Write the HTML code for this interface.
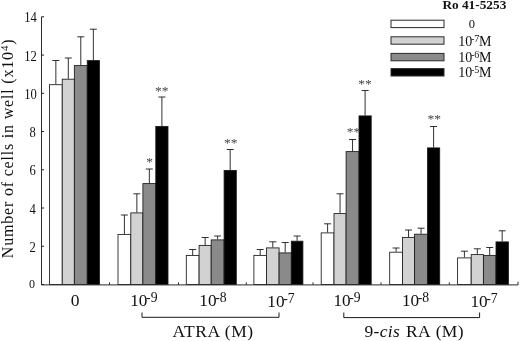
<!DOCTYPE html>
<html><head><meta charset="utf-8"><title>chart</title>
<style>
html,body{margin:0;padding:0;background:#fff;}
body{width:520px;height:341px;overflow:hidden;}
svg{display:block;will-change:transform;}
text{font-family:"Liberation Serif",serif;fill:#111;}
</style></head><body>
<svg width="520" height="341" viewBox="0 0 520 341">
<rect width="520" height="341" fill="#fff"/>

<path d="M55.85 84.30V60.50M52.35 60.50H59.35" stroke="#1a1a1a" stroke-width="0.9" fill="none"/>
<path d="M68.30 78.80V58.00M64.80 58.00H71.80" stroke="#1a1a1a" stroke-width="0.9" fill="none"/>
<path d="M80.80 65.20V36.80M77.30 36.80H84.30" stroke="#1a1a1a" stroke-width="0.9" fill="none"/>
<path d="M93.35 60.20V29.20M89.85 29.20H96.85" stroke="#1a1a1a" stroke-width="0.9" fill="none"/>
<path d="M124.40 234.00V215.00M120.90 215.00H127.90" stroke="#1a1a1a" stroke-width="0.9" fill="none"/>
<path d="M136.85 212.50V193.80M133.35 193.80H140.35" stroke="#1a1a1a" stroke-width="0.9" fill="none"/>
<path d="M149.35 183.20V169.00M145.85 169.00H152.85" stroke="#1a1a1a" stroke-width="0.9" fill="none"/>
<path d="M161.90 126.00V97.00M158.40 97.00H165.40" stroke="#1a1a1a" stroke-width="0.9" fill="none"/>
<path d="M192.70 255.00V249.50M189.20 249.50H196.20" stroke="#1a1a1a" stroke-width="0.9" fill="none"/>
<path d="M205.15 245.00V237.50M201.65 237.50H208.65" stroke="#1a1a1a" stroke-width="0.9" fill="none"/>
<path d="M217.65 239.50V236.00M214.15 236.00H221.15" stroke="#1a1a1a" stroke-width="0.9" fill="none"/>
<path d="M230.20 170.00V149.50M226.70 149.50H233.70" stroke="#1a1a1a" stroke-width="0.9" fill="none"/>
<path d="M260.20 255.00V249.50M256.70 249.50H263.70" stroke="#1a1a1a" stroke-width="0.9" fill="none"/>
<path d="M272.80 247.50V241.80M269.30 241.80H276.30" stroke="#1a1a1a" stroke-width="0.9" fill="none"/>
<path d="M285.20 252.50V242.50M281.70 242.50H288.70" stroke="#1a1a1a" stroke-width="0.9" fill="none"/>
<path d="M297.10 240.80V236.00M293.60 236.00H300.60" stroke="#1a1a1a" stroke-width="0.9" fill="none"/>
<path d="M327.60 232.50V223.80M324.10 223.80H331.10" stroke="#1a1a1a" stroke-width="0.9" fill="none"/>
<path d="M340.05 213.20V193.80M336.55 193.80H343.55" stroke="#1a1a1a" stroke-width="0.9" fill="none"/>
<path d="M352.55 151.20V139.50M349.05 139.50H356.05" stroke="#1a1a1a" stroke-width="0.9" fill="none"/>
<path d="M365.10 115.50V90.50M361.60 90.50H368.60" stroke="#1a1a1a" stroke-width="0.9" fill="none"/>
<path d="M396.10 251.80V248.00M392.60 248.00H399.60" stroke="#1a1a1a" stroke-width="0.9" fill="none"/>
<path d="M408.55 237.00V230.00M405.05 230.00H412.05" stroke="#1a1a1a" stroke-width="0.9" fill="none"/>
<path d="M421.05 233.80V228.20M417.55 228.20H424.55" stroke="#1a1a1a" stroke-width="0.9" fill="none"/>
<path d="M433.60 147.50V126.50M430.10 126.50H437.10" stroke="#1a1a1a" stroke-width="0.9" fill="none"/>
<path d="M464.40 257.50V251.20M460.90 251.20H467.90" stroke="#1a1a1a" stroke-width="0.9" fill="none"/>
<path d="M477.30 254.20V248.80M473.80 248.80H480.80" stroke="#1a1a1a" stroke-width="0.9" fill="none"/>
<path d="M489.70 255.00V247.50M486.20 247.50H493.20" stroke="#1a1a1a" stroke-width="0.9" fill="none"/>
<path d="M502.20 241.50V230.80M498.70 230.80H505.70" stroke="#1a1a1a" stroke-width="0.9" fill="none"/>
<rect x="49.45" y="84.70" width="12.80" height="199.80" fill="#ffffff" stroke="#1a1a1a" stroke-width="0.85"/>
<rect x="62.25" y="79.20" width="12.10" height="205.30" fill="#d2d2d2" stroke="#1a1a1a" stroke-width="0.85"/>
<rect x="74.35" y="65.60" width="12.90" height="218.90" fill="#8a8a8a" stroke="#1a1a1a" stroke-width="0.85"/>
<rect x="87.25" y="60.60" width="12.20" height="223.90" fill="#000000" stroke="#1a1a1a" stroke-width="0.85"/>
<rect x="118.00" y="234.40" width="12.80" height="50.10" fill="#ffffff" stroke="#1a1a1a" stroke-width="0.85"/>
<rect x="130.80" y="212.90" width="12.10" height="71.60" fill="#d2d2d2" stroke="#1a1a1a" stroke-width="0.85"/>
<rect x="142.90" y="183.60" width="12.90" height="100.90" fill="#8a8a8a" stroke="#1a1a1a" stroke-width="0.85"/>
<rect x="155.80" y="126.40" width="12.20" height="158.10" fill="#000000" stroke="#1a1a1a" stroke-width="0.85"/>
<rect x="186.30" y="255.40" width="12.80" height="29.10" fill="#ffffff" stroke="#1a1a1a" stroke-width="0.85"/>
<rect x="199.10" y="245.40" width="12.10" height="39.10" fill="#d2d2d2" stroke="#1a1a1a" stroke-width="0.85"/>
<rect x="211.20" y="239.90" width="12.90" height="44.60" fill="#8a8a8a" stroke="#1a1a1a" stroke-width="0.85"/>
<rect x="224.10" y="170.40" width="12.20" height="114.10" fill="#000000" stroke="#1a1a1a" stroke-width="0.85"/>
<rect x="253.90" y="255.40" width="12.60" height="29.10" fill="#ffffff" stroke="#1a1a1a" stroke-width="0.85"/>
<rect x="266.50" y="247.90" width="12.60" height="36.60" fill="#d2d2d2" stroke="#1a1a1a" stroke-width="0.85"/>
<rect x="279.10" y="252.90" width="12.20" height="31.60" fill="#8a8a8a" stroke="#1a1a1a" stroke-width="0.85"/>
<rect x="291.30" y="241.20" width="11.60" height="43.30" fill="#000000" stroke="#1a1a1a" stroke-width="0.85"/>
<rect x="321.20" y="232.90" width="12.80" height="51.60" fill="#ffffff" stroke="#1a1a1a" stroke-width="0.85"/>
<rect x="334.00" y="213.60" width="12.10" height="70.90" fill="#d2d2d2" stroke="#1a1a1a" stroke-width="0.85"/>
<rect x="346.10" y="151.60" width="12.90" height="132.90" fill="#8a8a8a" stroke="#1a1a1a" stroke-width="0.85"/>
<rect x="359.00" y="115.90" width="12.20" height="168.60" fill="#000000" stroke="#1a1a1a" stroke-width="0.85"/>
<rect x="389.70" y="252.20" width="12.80" height="32.30" fill="#ffffff" stroke="#1a1a1a" stroke-width="0.85"/>
<rect x="402.50" y="237.40" width="12.10" height="47.10" fill="#d2d2d2" stroke="#1a1a1a" stroke-width="0.85"/>
<rect x="414.60" y="234.20" width="12.90" height="50.30" fill="#8a8a8a" stroke="#1a1a1a" stroke-width="0.85"/>
<rect x="427.50" y="147.90" width="12.20" height="136.60" fill="#000000" stroke="#1a1a1a" stroke-width="0.85"/>
<rect x="457.60" y="257.90" width="13.60" height="26.60" fill="#ffffff" stroke="#1a1a1a" stroke-width="0.85"/>
<rect x="471.20" y="254.60" width="12.20" height="29.90" fill="#d2d2d2" stroke="#1a1a1a" stroke-width="0.85"/>
<rect x="483.40" y="255.40" width="12.60" height="29.10" fill="#8a8a8a" stroke="#1a1a1a" stroke-width="0.85"/>
<rect x="496.00" y="241.90" width="12.40" height="42.60" fill="#000000" stroke="#1a1a1a" stroke-width="0.85"/>
<path d="M41.5 16.8V284.9H518V281.8" stroke="#2a2a2a" stroke-width="1" fill="none"/>
<path d="M41.5 284.50H44" stroke="#1a1a1a" stroke-width="1" fill="none"/>
<path d="M41.5 246.26H44" stroke="#1a1a1a" stroke-width="1" fill="none"/>
<path d="M41.5 208.02H44" stroke="#1a1a1a" stroke-width="1" fill="none"/>
<path d="M41.5 169.78H44" stroke="#1a1a1a" stroke-width="1" fill="none"/>
<path d="M41.5 131.54H44" stroke="#1a1a1a" stroke-width="1" fill="none"/>
<path d="M41.5 93.30H44" stroke="#1a1a1a" stroke-width="1" fill="none"/>
<path d="M41.5 55.06H44" stroke="#1a1a1a" stroke-width="1" fill="none"/>
<path d="M41.5 16.82H44" stroke="#1a1a1a" stroke-width="1" fill="none"/>
<path d="M109.5 284.9V282.3" stroke="#333" stroke-width="1" fill="none"/>
<path d="M178.5 284.9V282.3" stroke="#333" stroke-width="1" fill="none"/>
<path d="M246.3 284.9V282.3" stroke="#333" stroke-width="1" fill="none"/>
<path d="M313.0 284.9V282.3" stroke="#333" stroke-width="1" fill="none"/>
<path d="M381.0 284.9V282.3" stroke="#333" stroke-width="1" fill="none"/>
<path d="M449.3 284.9V282.3" stroke="#333" stroke-width="1" fill="none"/>
<text transform="translate(35.8,251.86) scale(0.9,1)" font-size="14" text-anchor="end">2</text>
<text transform="translate(35.8,213.62) scale(0.9,1)" font-size="14" text-anchor="end">4</text>
<text transform="translate(35.8,175.38) scale(0.9,1)" font-size="14" text-anchor="end">6</text>
<text transform="translate(35.8,137.14) scale(0.9,1)" font-size="14" text-anchor="end">8</text>
<text transform="translate(36.9,98.90) scale(0.9,1)" font-size="14" text-anchor="end">10</text>
<text transform="translate(36.9,60.66) scale(0.9,1)" font-size="14" text-anchor="end">12</text>
<text transform="translate(36.9,22.42) scale(0.9,1)" font-size="14" text-anchor="end">14</text>
<text x="35" y="288.30" font-size="12" text-anchor="end">0</text>
<text transform="translate(13.2,258.2) rotate(-90)" font-size="16" letter-spacing="0.81">Number of cells in well (x10<tspan dy="-5" font-size="11">4</tspan><tspan dy="5">)</tspan></text>
<text x="75" y="306.3" font-size="17.5" text-anchor="middle">0</text>
<text x="130.2" y="306.4" font-size="17.2">10<tspan dy="-4.2" dx="-1.3" font-size="13.7">-9</tspan></text>
<text x="199.3" y="306.4" font-size="17.2">10<tspan dy="-4.2" dx="-1.3" font-size="13.7">-8</tspan></text>
<text x="267.3" y="306.7" font-size="17.2">10<tspan dy="-4.2" dx="-1.3" font-size="13.7">-7</tspan></text>
<text x="333.4" y="306.4" font-size="17.2">10<tspan dy="-4.2" dx="-1.3" font-size="13.7">-9</tspan></text>
<text x="401.9" y="306.4" font-size="17.2">10<tspan dy="-4.2" dx="-1.3" font-size="13.7">-8</tspan></text>
<text x="470.4" y="307.2" font-size="17.2">10<tspan dy="-4.2" dx="-1.3" font-size="13.7">-7</tspan></text>
<path d="M142 312.5V317.3H279V312.5" stroke="#1a1a1a" stroke-width="1" fill="none"/>
<path d="M343.8 312.5V317.6H479.6V312.5" stroke="#1a1a1a" stroke-width="1" fill="none"/>
<text x="172.6" y="336.6" font-size="17.5" letter-spacing="0.6">ATRA (M)</text>
<text x="364.5" y="336.5" font-size="17.5" letter-spacing="0.3" word-spacing="1.2">9-<tspan font-style="italic">cis</tspan> RA (M)</text>
<text x="442.4" y="9.0" font-size="13.3" font-weight="bold">Ro 41-5253</text>
<rect x="391" y="20.2" width="53" height="7.4" fill="#ffffff" stroke="#2a2a2a" stroke-width="1"/>
<rect x="391" y="36.8" width="53" height="7.4" fill="#d2d2d2" stroke="#2a2a2a" stroke-width="1"/>
<rect x="391" y="53.4" width="53" height="7.4" fill="#8a8a8a" stroke="#2a2a2a" stroke-width="1"/>
<rect x="391" y="68.60000000000001" width="53" height="7.4" fill="#000000" stroke="#2a2a2a" stroke-width="1"/>
<text x="471.8" y="27.8" font-size="12.5" text-anchor="middle">0</text>
<text x="458.2" y="45.5" font-size="14">10<tspan dy="-3.9" dx="-1.3" font-size="10">-7</tspan><tspan dy="3.9" dx="-0.3">M</tspan></text>
<text x="458.2" y="61.5" font-size="14">10<tspan dy="-3.9" dx="-1.3" font-size="10">-6</tspan><tspan dy="3.9" dx="-0.3">M</tspan></text>
<text x="458.2" y="77.2" font-size="14">10<tspan dy="-3.9" dx="-1.3" font-size="10">-5</tspan><tspan dy="3.9" dx="-0.3">M</tspan></text>
<text x="161.8" y="94.50" font-size="13.5" text-anchor="middle" style="fill:#444">**</text>
<text x="149.5" y="166.20" font-size="13.5" text-anchor="middle" style="fill:#444">*</text>
<text x="230.8" y="146.70" font-size="13.5" text-anchor="middle" style="fill:#444">**</text>
<text x="365" y="87.70" font-size="13.5" text-anchor="middle" style="fill:#444">**</text>
<text x="353.5" y="136.20" font-size="13.5" text-anchor="middle" style="fill:#444">**</text>
<text x="434.3" y="123.20" font-size="13.5" text-anchor="middle" style="fill:#444">**</text>
</svg></body></html>
